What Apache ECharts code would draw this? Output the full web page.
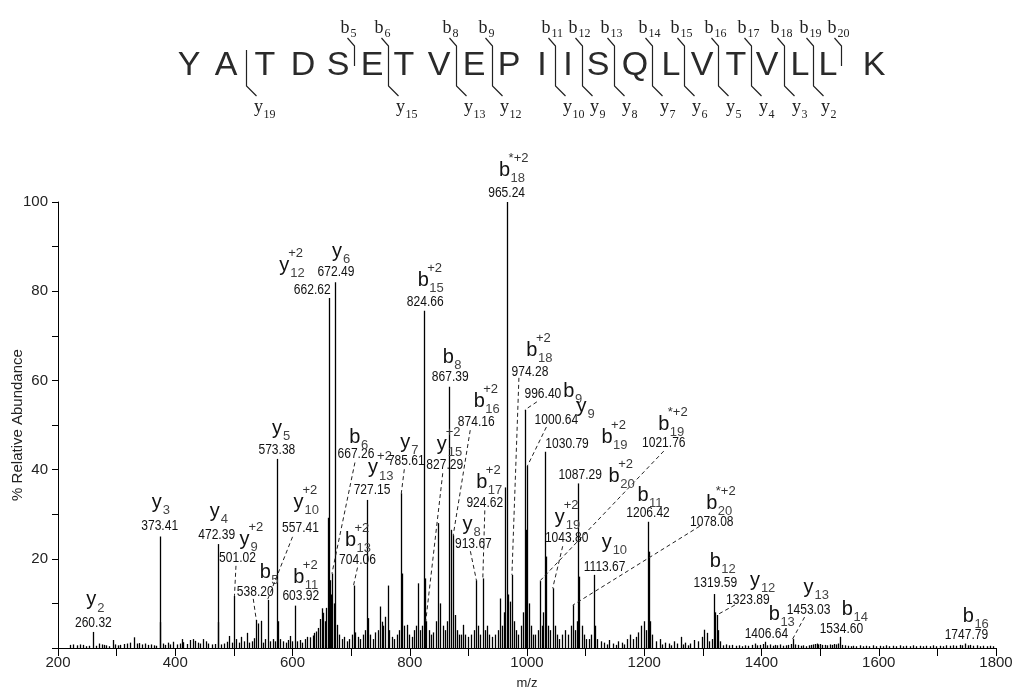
<!DOCTYPE html>
<html>
<head>
<meta charset="utf-8">
<script src="https://cdn.jsdelivr.net/npm/echarts@6/dist/echarts.min.js"></script>
<style>
  html, body { margin: 0; padding: 0; background: #fff; }
  #chart { width: 1017px; height: 692px; }
</style>
</head>
<body>
<div id="chart"></div>
<script>
// ---- Peptide sequence and observed cleavages ----
const sequence = ['Y','A','T','D','S','E','T','V','E','P','I','I','S','Q','L','V','T','V','L','L','K'];
const bIonsSeq = [5, 6, 8, 9, 11, 12, 13, 14, 15, 16, 17, 18, 19, 20];
const yIonsSeq = [19, 15, 13, 12, 10, 9, 8, 7, 6, 5, 4, 3, 2];

// ---- Annotated fragment ions (m/z, % relative abundance, ion name) ----
const ionMz = [260.32, 373.41, 472.39, 501.02, 538.20, 557.41, 573.38, 603.92, 662.62, 667.26,
  672.49, 704.06, 727.15, 785.61, 824.66, 827.29, 867.39, 874.16, 913.67, 924.62,
  965.24, 974.28, 996.40, 1000.64, 1021.76, 1030.79, 1043.80, 1078.08, 1087.29, 1113.67,
  1206.42, 1319.59, 1323.89, 1406.64, 1453.03, 1534.60, 1747.79];
const ionAbund = [3.6, 25, 23.3, 11.7, 6.3, 10.8, 42.4, 9.5, 78.5, 16.7,
  82, 14, 33.2, 34.7, 75.6, 6, 58.6, 25.3, 15.2, 15.6,
  100, 16.4, 53.4, 40.8, 15, 44, 13.4, 9.6, 36.9, 16.4,
  28.3, 12.1, 7.4, 1.4, 2, 2.5, 1];
const ionType = ['y','y','y','y','b','y','y','b','y','b',
  'y','b','y','y','b','y','b','b','y','b',
  'b','b','b','y','b','b','y','b','b','y',
  'b','b','y','b','y','b','b'];
const ionSub = ['2','3','4','9','5','10','5','11','12','6',
  '6','13','13','7','15','15','8','16','8','17',
  '18','18','9','9','19','19','19','20','20','10',
  '11','12','12','13','13','14','16'];
const ionSup = ['','','','+2','','+2','','+2','+2','',
  '','+2','+2','','+2','+2','','+2','','+2',
  '*+2','+2','','','*+2','+2','+2','*+2','+2','',
  '','','','','','',''];

// ---- Other centroided peaks (m/z, % relative abundance) ----
const peakMz = [220.5, 225, 231.8, 237.5, 243.2, 248, 253, 265, 270.5, 274.5, 278.5, 282, 287, 293.3, 297,
  301.5, 306, 311.8, 317.5, 323, 329.6, 334, 339, 343, 348.5, 354.3, 358.3, 364, 368,
  374.5, 379, 383, 387, 391.5, 396.7, 402.5, 408, 411, 414, 419.5, 425, 430, 434, 438, 442.5, 447.9,
  452.5, 456.5, 462, 468, 473.5, 478, 482.5, 488, 492.2, 496.5, 504, 508, 511.6, 516.5, 521.8, 526.5,
  530.4, 534.5, 541.7, 546.3, 550, 553.5, 561.5, 566, 570, 575.5, 579.5, 584, 588.5, 592.5, 595.7,
  599.5, 607, 612.5, 617, 621.5, 625.5, 630, 634.5, 637, 640, 644, 647, 649.8, 652.6, 655, 657.5,
  660, 664, 666, 670, 676.5, 680, 684, 688, 692.5, 697, 701, 707, 711, 715.5, 720, 724, 729.3, 732,
  737, 741, 745, 749.2, 752.2, 755, 757.8, 762.4, 765, 769, 773, 777.5, 782, 787, 790, 794.8, 799,
  803.5, 807.5, 810.5, 814.5, 817, 821, 826, 832, 836, 840.5, 845, 848.7, 851.6, 856, 860, 864, 869.8,
  877.2, 880.5, 884, 887.5, 891.4, 895, 900, 905, 909, 917, 920.5, 928, 932, 936, 940, 945, 950, 954,
  957, 960, 962.5, 967.5, 970.5, 977.5, 981, 985, 989, 992.5, 998.2, 1003, 1006, 1010, 1014, 1018,
  1025, 1027.5, 1032.3, 1036, 1040, 1047, 1051, 1055, 1060, 1065, 1070, 1074.5, 1082, 1085, 1089,
  1093, 1097, 1101, 1105, 1109, 1116, 1120, 1126, 1132, 1136, 1140, 1147, 1151, 1155, 1162, 1166,
  1170, 1176, 1180, 1186, 1190, 1195, 1199, 1203, 1207.8, 1210.5, 1214, 1220, 1227, 1231, 1235, 1242,
  1246, 1250, 1256, 1262, 1266, 1270, 1274, 1278, 1285, 1292, 1298, 1302.6, 1306.5, 1310, 1315,
  1321.5, 1326, 1330, 1335, 1340, 1345, 1350, 1356, 1362, 1367, 1372.3, 1377, 1383, 1389.3, 1393,
  1397.8, 1402, 1410, 1414.7, 1419, 1423, 1427, 1431.6, 1436, 1441.8, 1446, 1450, 1457, 1462.7, 1467,
  1471.2, 1476, 1481, 1485, 1488.3, 1491, 1494, 1497, 1499.6, 1504, 1508, 1512, 1516.6, 1520, 1523.4,
  1527, 1531, 1538, 1542, 1548, 1552, 1556.3, 1561, 1567.7, 1573, 1579, 1584, 1590.4, 1596, 1601.8,
  1607, 1613, 1618, 1624.5, 1630, 1636, 1641, 1647.3, 1653, 1658.7, 1664, 1670, 1676, 1681.4, 1687,
  1692.8, 1698, 1704, 1710, 1715.5, 1721, 1727, 1732, 1738, 1742, 1752, 1755.8, 1761, 1767, 1772,
  1778.6, 1784, 1790, 1795];
const peakAbund = [0.7, 0.8, 0.6, 0.8, 0.7, 0.4, 0.5, 0.5, 1.0, 0.8, 0.7, 0.6, 0.4, 1.8, 0.8,
  0.6, 0.7, 0.9, 1.0, 1.2, 2.4, 1.0, 1.1, 0.8, 1.0, 0.7, 0.8, 0.6, 0.5,
  5.8, 1.0, 0.7, 1.2, 0.8, 1.4, 0.8, 1.0, 2.0, 1.3, 0.9, 1.8, 2.0, 1.6, 1.2, 1.0, 2.0,
  1.5, 1.0, 0.8, 0.9, 5.8, 0.8, 1.0, 1.4, 2.7, 1.2, 2.0, 1.2, 2.5, 1.5, 3.4, 1.2,
  1.5, 2.2, 5.5, 6.1, 1.2, 2.0, 1.5, 2.0, 1.5, 6.0, 2.0, 1.5, 1.2, 1.8, 2.7,
  1.5, 1.5, 1.8, 1.2, 2.0, 2.5, 2.4, 2.8, 3.4, 3.7, 4.5, 6.5, 8.9, 7.9, 6.0, 9.0,
  29.2, 15.2, 12.0, 10.0, 5.2, 3.0, 2.0, 2.5, 1.5, 2.0, 3.0, 3.5, 2.5, 2.0, 3.0, 4.0, 6.7, 3.0,
  2.0, 3.5, 4.0, 9.3, 5.9, 5.0, 7.0, 14.0, 4.0, 2.5, 2.0, 3.0, 4.0, 16.7, 5.0, 5.2, 3.0,
  2.5, 4.0, 5.0, 14.5, 4.0, 5.0, 15.6, 4.0, 3.0, 3.5, 6.0, 28.0, 10.0, 5.0, 4.0, 6.0, 26.5,
  7.4, 4.0, 3.0, 3.0, 5.2, 3.0, 2.5, 3.0, 4.0, 5.0, 3.0, 4.0, 5.0, 3.0, 2.5, 3.0, 4.0, 11.1,
  5.0, 8.0, 36.0, 12.0, 10.4, 6.0, 4.0, 3.0, 5.0, 8.0, 26.5, 10.0, 5.0, 3.0, 3.0, 4.0,
  5.0, 8.0, 20.5, 5.0, 4.0, 5.0, 3.0, 2.0, 3.0, 4.0, 3.0, 5.0, 4.0, 6.0, 16.0,
  5.0, 3.0, 2.0, 2.0, 3.0, 5.0, 2.0, 1.5, 1.2, 0.8, 1.8, 1.0, 0.7, 1.5, 1.2, 0.8,
  2.0, 3.0, 2.0, 2.5, 3.5, 5.0, 6.0, 4.0, 21.6, 6.0, 3.0, 1.5, 2.0, 0.8, 1.2, 1.0,
  0.6, 1.5, 1.0, 2.5, 0.8, 1.2, 0.6, 1.0, 1.8, 1.5, 2.5, 4.1, 3.4, 1.5, 2.0,
  8.0, 4.0, 1.5, 0.6, 0.8, 0.6, 0.7, 0.5, 0.6, 0.4, 0.6, 0.5, 0.7, 1.0, 0.6,
  0.7, 0.9, 0.6, 0.8, 0.5, 0.7, 0.6, 0.8, 0.5, 0.6, 0.7, 0.9, 0.8, 0.7, 0.5,
  0.6, 0.4, 0.6, 0.7, 0.8, 0.9, 1.0, 0.8, 0.9, 0.7, 0.7, 0.6, 0.8, 0.7, 0.9,
  0.8, 1.0, 0.7, 0.6, 0.5, 0.4, 0.5, 0.4, 0.6, 0.4, 0.5, 0.4, 0.6, 0.4, 0.5,
  0.4, 0.6, 0.4, 0.5, 0.4, 0.6, 0.4, 0.5, 0.4, 0.6, 0.4, 0.5, 0.4, 0.5, 0.4,
  0.6, 0.4, 0.5, 0.4, 0.6, 0.5, 0.6, 0.5, 0.7, 0.6, 0.6, 0.7, 0.5, 0.6, 0.4,
  0.5, 0.4, 0.5, 0.4];

// ---- Axis ticks ----
const xMin = 200, xMax = 1800, xStep = 100, xLabelStep = 200;
const yMin = 0, yMax = 100, yStep = 10, yLabelStep = 20;

// ---- Layout (pixels) ----
// sequence letter centres and cleavage mark positions
const residueX = [189, 226, 265, 303, 338, 372, 404, 439, 474, 509, 542, 568, 598, 635, 671, 702, 736, 767, 800, 828, 874];
const cleavageX = {2: 246, 5: 354, 6: 388, 8: 456, 9: 492, 11: 555, 12: 582, 13: 614, 14: 652,
  15: 684, 16: 718, 17: 751, 18: 784, 19: 813, 20: 841};
// per annotated ion: n = m/z text centre from peak top, i = ion name from m/z text,
// l = dashed leader start from m/z text (null: none)
const ionLayout = [
  {n: [0, -9], i: [-2, -23], l: null},
  {n: [0, -10], i: [-3, -24], l: null},
  {n: [-1, -9], i: [-2, -24], l: null},
  {n: [3, -38], i: [7, -18], l: [-1.5, 8]},
  {n: [-1, -28], i: [10, -19], l: [-2, 7]},
  {n: [33, -72], i: [-2, -25], l: [-8, 9]},
  {n: [0, -9], i: [0, -21], l: null},
  {n: [6, -9], i: [-2, -19], l: null},
  {n: [-17, -8], i: [-28, -24], l: null},
  {n: [24, -119], i: [-1, -17], l: [-1, 8]},
  {n: [1, -10], i: [1, -21], l: null},
  {n: [4, -25], i: [-7, -20], l: [0, 7]},
  {n: [5, -10], i: [1, -22], l: null},
  {n: [5, -32], i: [-1, -19], l: [-2, 8]},
  {n: [1, -9], i: [-2, -21], l: null},
  {n: [19, -156], i: [-3, -21], l: [-2, 8]},
  {n: [1, -10], i: [-2, -19], l: null},
  {n: [23, -113], i: [3, -21], l: [-6, 8]},
  {n: [-3, -36], i: [-6, -20], l: [-3, 7]},
  {n: [2, -75], i: [-3, -21], l: [0, 7]},
  {n: [0, -9], i: [-2, -23], l: null},
  {n: [18, -203], i: [2, -21], l: [-11, 6]},
  {n: [18, -16], i: [26, -2], l: [-6, 8]},
  {n: [29, -46], i: [25, -14], l: [-10, 7]},
  {n: [124, -138], i: [0, -19], l: [0, 8]},
  {n: [22, -8], i: [40, -6], l: null},
  {n: [14, -50], i: [-7, -21], l: [-4, 8]},
  {n: [139, -83], i: [0, -19], l: [-12, 4]},
  {n: [2, -8], i: [34, 1], l: null},
  {n: [11, -8], i: [2, -24], l: null},
  {n: [0, -9], i: [-5, -17], l: null},
  {n: [1, -11], i: [0, -22], l: null},
  {n: [31, -15], i: [7, -20], l: [-13, 5]},
  {n: [1, -8], i: [8, -19], l: null},
  {n: [16, -29], i: [0, -23], l: [-4, 7]},
  {n: [1, -8], i: [6, -19], l: null},
  {n: [1, -8], i: [2, -19], l: null}
];

const INK = '#111';
const SANS = '"Liberation Sans", Arial, sans-serif';
const SERIF = '"Liberation Serif", "Times New Roman", serif';

// every peak drawn as a stick from the baseline
const stickData = [];
peakMz.forEach((m, k) => stickData.push([m, peakAbund[k]]));
ionMz.forEach((m, k) => stickData.push([m, ionAbund[k]]));

const ionData = ionMz.map((m, k) => [m, ionAbund[k]]);

function renderStick(params, api) {
  const base = api.coord([api.value(0), 0]);
  const top = api.coord([api.value(0), api.value(1)]);
  const x = Math.round(base[0]) + 0.5;
  return {
    type: 'line',
    shape: {x1: x, y1: base[1], x2: x, y2: top[1]},
    style: {stroke: '#000', lineWidth: 1.3}
  };
}

function renderIon(params, api) {
  const k = params.dataIndex;
  const lay = ionLayout[k];
  const top = api.coord([api.value(0), api.value(1)]);
  const nx = top[0] + lay.n[0], ny = top[1] + lay.n[1];
  const ix = nx + lay.i[0], iy = ny + lay.i[1];
  const children = [];
  if (lay.l) {
    children.push({
      type: 'line',
      shape: {x1: nx + lay.l[0], y1: ny + lay.l[1], x2: top[0], y2: top[1]},
      style: {stroke: '#222', lineWidth: 1, lineDash: [4, 3]}
    });
  }
  children.push({
    type: 'text', x: nx, y: ny, scaleX: 0.86,
    style: {text: ionMz[k].toFixed(2), font: '14px ' + SANS, fill: INK, align: 'center', verticalAlign: 'middle'}
  });
  children.push({
    type: 'text', x: ix, y: iy,
    style: {text: ionType[k], font: '20px ' + SANS, fill: INK, align: 'center', verticalAlign: 'middle'}
  });
  children.push({
    type: 'text', x: ix + 6, y: iy + 8,
    style: {text: ionSub[k], font: '13px ' + SANS, fill: '#444', align: 'left', verticalAlign: 'middle'}
  });
  if (ionSup[k]) {
    children.push({
      type: 'text', x: ix + 4, y: iy - 12,
      style: {text: ionSup[k], font: '13px ' + SANS, fill: '#333', align: 'left', verticalAlign: 'middle'}
    });
  }
  return {type: 'group', children: children};
}

// sequence with b/y cleavage marks
const seqElements = [];
sequence.forEach((aa, i) => {
  seqElements.push({
    type: 'text', x: residueX[i], y: 66,
    style: {text: aa, font: '34px ' + SANS, fill: '#2a2a2a', align: 'center', verticalAlign: 'middle'}
  });
});
for (let k = 1; k < sequence.length; k++) {
  const hasB = bIonsSeq.includes(k);
  const hasY = yIonsSeq.includes(sequence.length - k);
  if (!hasB && !hasY) continue;
  const sx = cleavageX[k] + 0.5;
  const pts = [];
  if (hasB) { pts.push([sx - 7, 38]); pts.push([sx, 46]); } else { pts.push([sx, 50]); }
  if (hasY) { pts.push([sx, 86]); pts.push([sx + 10, 96]); } else { pts.push([sx, 66]); }
  seqElements.push({type: 'polyline', shape: {points: pts}, style: {stroke: '#222', lineWidth: 1.2, fill: null}});
  if (hasB) {
    seqElements.push({type: 'text', x: sx - 9.5, y: 28,
      style: {text: 'b', font: '18px ' + SERIF, fill: '#222', align: 'center', verticalAlign: 'middle'}});
    seqElements.push({type: 'text', x: sx - 4, y: 34,
      style: {text: String(k), font: '12px ' + SERIF, fill: '#222', align: 'left', verticalAlign: 'middle'}});
  }
  if (hasY) {
    seqElements.push({type: 'text', x: sx + 12, y: 107,
      style: {text: 'y', font: '18px ' + SERIF, fill: '#222', align: 'center', verticalAlign: 'middle'}});
    seqElements.push({type: 'text', x: sx + 17, y: 115,
      style: {text: String(sequence.length - k), font: '12px ' + SERIF, fill: '#222', align: 'left', verticalAlign: 'middle'}});
  }
}

const chart = echarts.init(document.getElementById('chart'), null, {renderer: 'canvas'});
chart.setOption({
  animation: false,
  backgroundColor: '#fff',
  grid: {left: 58, right: 21, top: 202, bottom: 44, containLabel: false, outerBoundsMode: 'none'},
  xAxis: {
    type: 'value', min: xMin, max: xMax, interval: xStep,
    name: 'm/z', nameLocation: 'middle', nameGap: 29, nameMoveOverlap: false,
    nameTextStyle: {fontFamily: SANS, fontSize: 13, color: '#222'},
    axisLine: {show: true, onZero: false, lineStyle: {color: '#000', width: 1}},
    axisTick: {show: true, inside: false, length: 8, lineStyle: {color: '#000', width: 1}},
    axisLabel: {
      margin: 7, fontFamily: SANS, fontSize: 15, color: '#222',
      formatter: v => (v % xLabelStep === 0 ? String(v) : '')
    },
    splitLine: {show: false}
  },
  yAxis: {
    type: 'value', min: yMin, max: yMax, interval: yStep,
    name: '% Relative Abundance', nameLocation: 'middle', nameGap: 33, nameRotate: 90,
    nameMoveOverlap: false,
    nameTextStyle: {fontFamily: SANS, fontSize: 15, color: '#222'},
    axisLine: {show: true, lineStyle: {color: '#000', width: 1}},
    axisTick: {show: true, inside: false, length: 6, lineStyle: {color: '#000', width: 1}},
    axisLabel: {
      margin: 10, fontFamily: SANS, fontSize: 15, color: '#222',
      formatter: v => (v > 0 && v % yLabelStep === 0 ? String(v) : '')
    },
    splitLine: {show: false}
  },
  graphic: {elements: seqElements},
  series: [
    {
      type: 'custom', name: 'peaks', renderItem: renderStick,
      data: stickData, encode: {x: 0, y: 1}, clip: true, silent: true, z: 2
    },
    {
      type: 'custom', name: 'ions', renderItem: renderIon,
      data: ionData, encode: {x: 0, y: 1}, clip: false, silent: true, z: 3
    }
  ]
});
</script>
</body>
</html>
